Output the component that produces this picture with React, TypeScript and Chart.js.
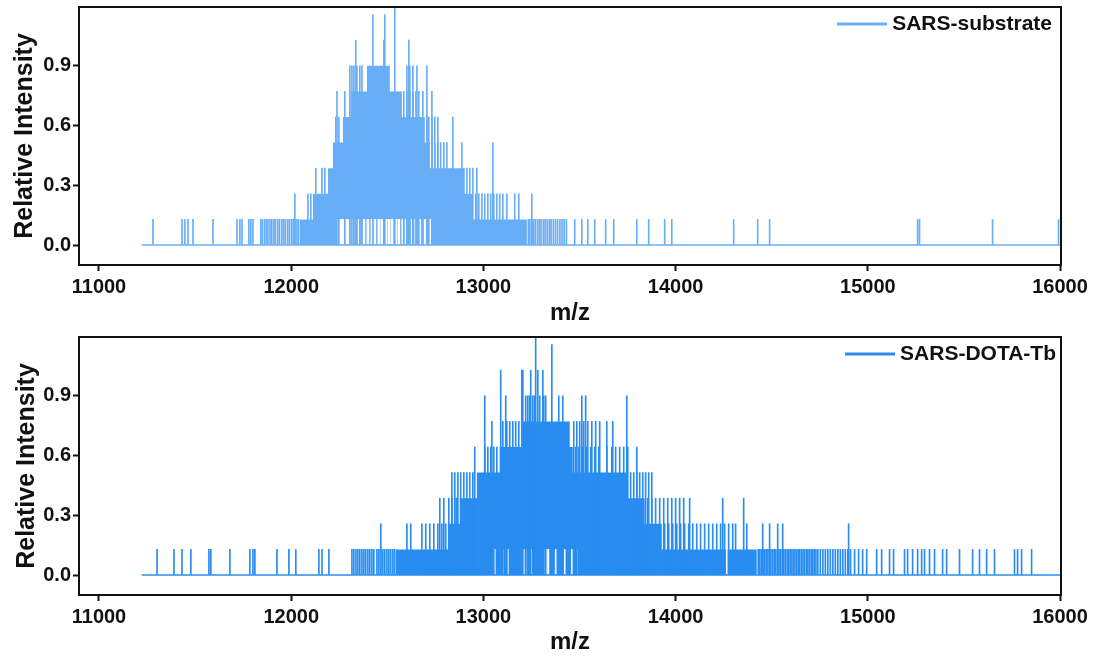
import React, { useEffect, useRef } from 'react';
import { Chart, registerables } from 'chart.js';

Chart.register(...registerables);

// ---------- axes ----------
const xTicks = [11000, 12000, 13000, 14000, 15000, 16000];
const yTicks = [0, 0.3, 0.6, 0.9];
const xMin = 10896;
const xMax = 16005;
const yMin = -0.1;
const yMax = 1.19;

// quantised relative intensity levels seen in both spectra (index = level)
const intensityLevels = [0, 0.128, 0.256, 0.384, 0.512, 0.64, 0.768, 0.896, 1.024, 1.152];
const peakIntensity = 1.19;
const baselineMz = [11222, 16000];

// ---------- SARS-substrate (top) ----------
const topEnvelopeMz = [12045, 12113, 12191, 12217, 12269, 12310, 12394, 12513, 12576, 12695, 12721, 12903, 12945, 13226];
const topEnvelopeLevel = [1, 2, 3, 4, 5, 6, 7, 6, 5, 4, 3, 2, 1, 0];
const topSpikesL1 = [
  11281, 11432, 11447, 11463, 11489, 11593, 11718, 11733, 11744, 11780, 11790, 11801,
  11842, 11850, 11861, 11870, 11879, 11890, 11899, 11910, 11918, 11930, 11939, 11951,
  11960, 11969, 11981, 11990, 12001, 12010, 12019, 12030, 12038,
  13234, 13242, 13253, 13262, 13271, 13282, 13291, 13300, 13312, 13321, 13332, 13343,
  13352, 13364, 13375, 13386, 13398, 13409, 13420, 13432,
  13475, 13512, 13543, 13579, 13636, 13678, 13798, 13860, 13943, 13980, 14302, 14427,
  14489, 15259, 15269, 15649, 15992,
];
const topSpikesL2 = [12019, 12087, 12102, 12960, 12976, 12992, 13007, 13023, 13038, 13054, 13070, 13085, 13101, 13122, 13163, 13184, 13252];
const topSpikesL3 = [12128, 12160, 12175, 12914, 12929, 12945, 12966];
const topSpikesL4 = [12732, 12747, 12763, 12778, 12794, 12810, 12888, 13049];
const topSpikesL5 = [12232, 12248, 12706, 12716, 12732, 12747, 12763, 12841];
const topSpikesL6 = [12238, 12279, 12586, 12602, 12617, 12633, 12649, 12664, 12685, 12732];
const topSpikesL7 = [12305, 12316, 12326, 12342, 12357, 12368, 12602, 12617, 12633, 12654, 12706];
const topSpikesL8 = [12336, 12482, 12612];
const topSpikesL9 = [12425, 12487];
const topPeakMz = [12539];
const topZeroMz = [
  12243, 12253, 12264, 12274, 12284, 12295, 12316, 12336, 12352, 12378, 12399, 12420,
  12435, 12456, 12472, 12492, 12508, 12524, 12544, 12560, 12581, 12596, 12612, 12628,
  12648, 12669, 12695, 12721,
];

// ---------- SARS-DOTA-Tb (bottom) ----------
const bottomEnvelopeMz = [12544, 12815, 12877, 12966, 13085, 13205, 13449, 13465, 13751, 13839, 13928, 14422];
const bottomEnvelopeLevel = [1, 2, 3, 4, 5, 6, 5, 4, 3, 2, 1, 0];
const bottomSpikesL1 = [
  11302, 11390, 11432, 11478, 11572, 11582, 11681, 11785, 11801, 11811, 11926, 11988,
  12024, 12144, 12160, 12196,
  12316, 12326, 12337, 12347, 12357, 12368, 12378, 12388, 12399, 12409, 12420, 12430,
  12446, 12456, 12466, 12477, 12487, 12498, 12508, 12518, 12529, 12538,
  14430, 14438, 14446, 14455, 14463, 14471, 14480, 14488, 14496, 14505, 14513, 14521,
  14530, 14538, 14546, 14555, 14563, 14571, 14580, 14588, 14596, 14605, 14613, 14621,
  14630, 14638, 14646, 14655, 14663, 14671, 14680, 14688, 14696, 14705, 14713, 14721,
  14730, 14740, 14753, 14766, 14779, 14792, 14805, 14818, 14831, 14844, 14857, 14870,
  14883, 14896, 14910, 14931, 14952, 14973, 14994,
  15046, 15072, 15113, 15134, 15191, 15207, 15233, 15259, 15280, 15295, 15321, 15347,
  15389, 15410, 15477, 15545, 15581, 15618, 15659, 15763, 15779, 15800, 15852,
];
const bottomSpikesL2 = [
  12466, 12602, 12622, 12680, 12700, 12721, 12742, 12763, 12784, 12804,
  13943, 13964, 13985, 14006, 14026, 14047, 14068, 14089, 14110, 14130, 14151, 14172,
  14193, 14214, 14234, 14255, 14276, 14297, 14312, 14370, 14453, 14489, 14531, 14557, 14900,
];
const bottomSpikesL3 = [12773, 12794, 12820, 12836, 12851, 12862, 13855, 13876, 13896, 13917, 13938, 13959, 13980, 14000, 14021, 14042, 14073, 14245, 14354];
const bottomSpikesL4 = [12836, 12851, 12867, 12882, 12898, 12914, 12929, 12945, 13766, 13782, 13798, 13813, 13829, 13844, 13860, 13876];
const bottomSpikesL5 = [12955, 13007, 13023, 13038, 13054, 13070, 13480, 13496, 13517, 13538, 13558, 13579, 13600, 13642, 13668, 13688, 13709, 13730, 13751, 13798];
const bottomSpikesL6 = [13044, 13101, 13122, 13137, 13153, 13168, 13184, 13470, 13486, 13501, 13522, 13543, 13564, 13584, 13605, 13642, 13673];
const bottomSpikesL7 = [13007, 13116, 13220, 13231, 13241, 13257, 13267, 13293, 13314, 13324, 13392, 13413, 13512, 13532, 13746];
const bottomSpikesL8 = [13090, 13200, 13205, 13246, 13283, 13309];
const bottomSpikesL9 = [13356];
const bottomPeakMz = [13272];
const bottomZeroMz = [13059, 13101, 13127, 13210, 13220, 13252, 13322, 13330, 13338, 13376, 13423, 13460, 13486, 14266];

const FONT = "'Liberation Sans', Arial, Helvetica, sans-serif";
const INK = '#111111';

type PanelDef = {
  label: string;
  color: string;
  envMz: number[];
  envLevel: number[];
  spikes: number[][]; // index 0 => level 1
  peak: number[];
  zeros: number[];
  zeroWidth: number;
  height: number;
  legendRight: number;
  titlePad: number;
};

const panels: PanelDef[] = [
  {
    label: 'SARS-substrate',
    color: 'rgb(104,174,246)',
    envMz: topEnvelopeMz,
    envLevel: topEnvelopeLevel,
    spikes: [topSpikesL1, topSpikesL2, topSpikesL3, topSpikesL4, topSpikesL5, topSpikesL6, topSpikesL7, topSpikesL8, topSpikesL9],
    peak: topPeakMz,
    zeros: topZeroMz,
    zeroWidth: 2,
    height: 330,
    legendRight: 1052,
    titlePad: 10,
  },
  {
    label: 'SARS-DOTA-Tb',
    color: 'rgb(40,140,240)',
    envMz: bottomEnvelopeMz,
    envLevel: bottomEnvelopeLevel,
    spikes: [bottomSpikesL1, bottomSpikesL2, bottomSpikesL3, bottomSpikesL4, bottomSpikesL5, bottomSpikesL6, bottomSpikesL7, bottomSpikesL8, bottomSpikesL9],
    peak: bottomPeakMz,
    zeros: bottomZeroMz,
    zeroWidth: 1,
    height: 329,
    legendRight: 1056,
    titlePad: 12,
  },
];

function SpectrumPanel({ p }: { p: PanelDef }) {
  const ref = useRef<HTMLCanvasElement | null>(null);
  useEffect(() => {
    if (!ref.current) return;
    const envelope = [
      { x: baselineMz[0], y: 0 },
      ...p.envMz.map((m, i) => ({ x: m, y: intensityLevels[p.envLevel[i]] })),
      { x: baselineMz[1], y: 0 },
    ];
    const spikeData: { x: number; y: number }[] = [];
    p.spikes.forEach((arr, li) => arr.forEach((m) => spikeData.push({ x: m, y: intensityLevels[li + 1] })));
    p.peak.forEach((m) => spikeData.push({ x: m, y: peakIntensity }));
    const zeroData = p.zeros.map((m) => ({ x: m, y: [0.004, intensityLevels[1]] }));
    const baseline = baselineMz.map((m) => ({ x: m, y: 0 }));

    const frameAndLegend = {
      id: 'frameAndLegend',
      afterDraw(chart: any) {
        const { ctx, chartArea } = chart;
        ctx.save();
        ctx.strokeStyle = INK;
        ctx.lineWidth = 2;
        ctx.strokeRect(chartArea.left, chartArea.top, chartArea.right - chartArea.left, chartArea.bottom - chartArea.top);
        ctx.font = `bold 21px ${FONT}`;
        ctx.fillStyle = INK;
        ctx.textBaseline = 'middle';
        ctx.textAlign = 'right';
        const ly = chartArea.top + 17;
        ctx.fillText(p.label, p.legendRight, ly);
        const w = ctx.measureText(p.label).width;
        const tx = p.legendRight - w;
        ctx.strokeStyle = p.color;
        ctx.lineWidth = 3;
        ctx.beginPath();
        ctx.moveTo(tx - 55, ly);
        ctx.lineTo(tx - 5, ly);
        ctx.stroke();
        ctx.restore();
      },
    };

    const chart = new Chart(ref.current, {
      type: 'line',
      data: {
        datasets: [
          {
            type: 'line',
            data: baseline,
            borderColor: p.color,
            borderWidth: 1.3,
            pointRadius: 0,
            order: 0,
          } as any,
          {
            type: 'bar',
            data: spikeData,
            backgroundColor: p.color,
            borderWidth: 0,
            barThickness: 1,
            grouped: false,
            order: 1,
          } as any,
          {
            type: 'bar',
            data: zeroData,
            backgroundColor: '#ffffff',
            borderWidth: 0,
            barThickness: p.zeroWidth,
            grouped: false,
            order: 2,
          } as any,
          {
            type: 'line',
            data: envelope,
            stepped: 'before',
            borderWidth: 0,
            borderColor: p.color,
            backgroundColor: p.color,
            fill: 'origin',
            pointRadius: 0,
            order: 3,
          } as any,
        ],
      },
      options: {
        responsive: false,
        animation: false,
        events: [],
        layout: { padding: { top: 7, right: 38, left: 0, bottom: 0 } },
        plugins: { legend: { display: false }, tooltip: { enabled: false }, title: { display: false } },
        scales: {
          x: {
            type: 'linear',
            min: xMin,
            max: xMax,
            offset: false,
            afterBuildTicks: (s: any) => {
              s.ticks = xTicks.map((v) => ({ value: v }));
            },
            afterFit: (s: any) => {
              s.height = p.height - 7 - 258;
              s.paddingLeft = 0;
              s.paddingRight = 0;
            },
            ticks: {
              autoSkip: false,
              maxRotation: 0,
              padding: 4,
              color: INK,
              font: { family: FONT, size: 20, weight: 'bold' },
              callback: (v: any) => String(v),
            },
            grid: { offset: false, drawOnChartArea: false, drawTicks: true, tickLength: 6, tickWidth: 2, tickColor: INK },
            border: { display: false },
            title: {
              display: true,
              text: 'm/z',
              color: INK,
              font: { family: FONT, size: 24, weight: 'bold' },
              padding: { top: 0, bottom: 2 },
            },
          },
          y: {
            type: 'linear',
            min: yMin,
            max: yMax,
            afterBuildTicks: (s: any) => {
              s.ticks = yTicks.map((v) => ({ value: v }));
            },
            afterFit: (s: any) => {
              s.width = 79;
              s.paddingTop = 0;
              s.paddingBottom = 0;
            },
            ticks: {
              padding: 2,
              color: INK,
              font: { family: FONT, size: 20, weight: 'bold' },
              callback: (v: any) => Number(v).toFixed(1),
            },
            grid: { drawOnChartArea: false, drawTicks: true, tickLength: 6, tickWidth: 2, tickColor: INK },
            border: { display: false },
            title: {
              display: true,
              text: 'Relative Intensity',
              color: INK,
              font: { family: FONT, size: 25, weight: 'bold' },
              padding: { top: p.titlePad, bottom: 0 },
            },
          },
        },
      } as any,
      plugins: [frameAndLegend],
    });
    return () => chart.destroy();
  }, [p]);
  return <canvas ref={ref} width={1099} height={p.height} style={{ display: 'block', width: 1099, height: p.height }} />;
}

export default function App() {
  return (
    <div style={{ position: 'absolute', left: 0, top: 0, width: 1099, height: 659, background: '#ffffff' }}>
      {panels.map((p) => (
        <SpectrumPanel key={p.label} p={p} />
      ))}
    </div>
  );
}
